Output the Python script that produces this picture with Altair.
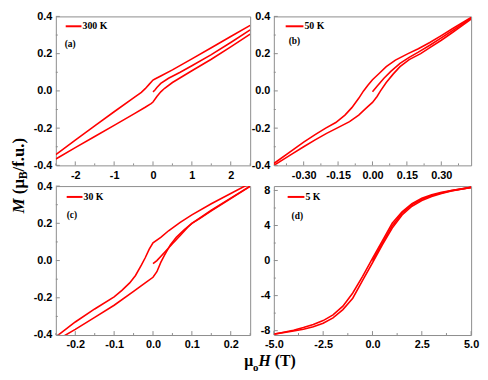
import altair as alt
import pandas as pd

RED = "#ff0000"
FRAME = "#8c8c8c"
SERIF = "Liberation Serif"
SANS = "Liberation Sans"

TEMPS = ["300 K", "50 K", "30 K", "5 K"]
TAGS = ["(a)", "(b)", "(c)", "(d)"]

# ---- panel (a) 300 K ----
A_UP_H = [2.5, 2.0, 1.5, 1.0, 0.5, 0.2, 0.05, 0.0, -0.1, -0.2, -0.3, -0.5, -1.0, -1.5, -2.0, -2.5]
A_UP_M = [0.352, 0.292, 0.232, 0.172, 0.113, 0.080, 0.064, 0.058, 0.035, 0.012, -0.008, -0.038, -0.112, -0.188, -0.264, -0.342]
A_LO_H = [-2.5, -2.0, -1.5, -1.0, -0.5, -0.2, -0.05, 0.0, 0.1, 0.2, 0.3, 0.5, 1.0, 1.5, 2.0, 2.5]
A_LO_M = [-0.366, -0.305, -0.245, -0.185, -0.125, -0.088, -0.068, -0.060, -0.030, -0.005, 0.014, 0.045, 0.108, 0.170, 0.236, 0.305]
A_VI_H = [0.0, 0.05, 0.1, 0.2, 0.4, 0.7, 1.0, 1.5, 2.0, 2.5]
A_VI_M = [-0.005, 0.005, 0.018, 0.040, 0.068, 0.100, 0.135, 0.195, 0.260, 0.328]

# ---- panel (b) 50 K ----
B_UP_H = [0.43, 0.35, 0.30, 0.25, 0.20, 0.155, 0.10, 0.06, 0.03, 0.0, -0.02, -0.039, -0.06, -0.09, -0.12, -0.16, -0.204, -0.25, -0.30, -0.35, -0.43]
B_UP_M = [0.395, 0.335, 0.297, 0.26, 0.226, 0.20, 0.165, 0.13, 0.095, 0.06, 0.03, 0.0, -0.04, -0.09, -0.13, -0.17, -0.20, -0.235, -0.275, -0.32, -0.39]
B_LO_H = [-0.43, -0.35, -0.30, -0.25, -0.20, -0.155, -0.10, -0.06, -0.03, 0.0, 0.02, 0.035, 0.06, 0.09, 0.12, 0.16, 0.21, 0.25, 0.30, 0.35, 0.43]
B_LO_M = [-0.40, -0.338, -0.30, -0.263, -0.228, -0.20, -0.165, -0.13, -0.095, -0.062, -0.03, 0.0, 0.045, 0.09, 0.13, 0.168, 0.20, 0.232, 0.272, 0.315, 0.385]
B_VI_H = [0.0, 0.02, 0.05, 0.08, 0.12, 0.16, 0.2, 0.25, 0.3, 0.35, 0.43]
B_VI_M = [-0.005, 0.025, 0.068, 0.105, 0.148, 0.18, 0.208, 0.245, 0.285, 0.325, 0.39]

# ---- panel (c) 30 K ----
C_UP_H = [0.25, 0.2, 0.15, 0.1, 0.07, 0.04, 0.02, 0.0, -0.01, -0.02, -0.03, -0.045, -0.06, -0.08, -0.1, -0.15, -0.2, -0.25]
C_UP_M = [0.415, 0.36, 0.305, 0.245, 0.205, 0.16, 0.125, 0.095, 0.06, 0.015, -0.025, -0.08, -0.12, -0.16, -0.195, -0.26, -0.33, -0.41]
C_LO_H = [-0.25, -0.2, -0.15, -0.1, -0.05, -0.02, 0.0, 0.01, 0.02, 0.03, 0.045, 0.06, 0.08, 0.1, 0.15, 0.2, 0.25]
C_LO_M = [-0.43, -0.37, -0.305, -0.24, -0.165, -0.12, -0.09, -0.06, -0.01, 0.03, 0.085, 0.125, 0.165, 0.2, 0.27, 0.335, 0.4]
C_VI_H = [0.0, 0.01, 0.03, 0.05, 0.07, 0.09, 0.1, 0.12, 0.15, 0.2, 0.25]
C_VI_M = [-0.017, 0.0, 0.045, 0.09, 0.135, 0.18, 0.2, 0.225, 0.267, 0.333, 0.398]

# ---- panel (d) 5 K ----
D_UP_H = [5, 4, 3.5, 3, 2.5, 2, 1.5, 1, 0.5, 0, -0.5, -1, -1.5, -2, -2.5, -3, -3.5, -4, -5]
D_UP_M = [8.35, 8.0, 7.8, 7.5, 7.1, 6.5, 5.55, 4.25, 2.25, 0.25, -1.8, -3.7, -5.2, -6.2, -6.85, -7.3, -7.65, -7.95, -8.4]
D_LO_H = [-5, -4, -3.5, -3, -2.5, -2, -1.5, -1, -0.5, 0, 0.5, 1, 1.5, 2, 2.5, 3, 3.5, 4, 5]
D_LO_M = [-8.4, -8.05, -7.85, -7.55, -7.15, -6.55, -5.6, -4.3, -2.25, -0.25, 1.8, 3.7, 5.2, 6.2, 6.85, 7.3, 7.65, 7.95, 8.35]
D_VI_H = [0, 0.5, 1, 1.5, 2, 2.5, 3, 3.5, 4, 5]
D_VI_M = [0.0, 2.0, 3.95, 5.4, 6.38, 7.0, 7.42, 7.72, 7.98, 8.35]

# axis ticks
A_X_MAJ = [-2, -1, 0, 1, 2]
A_X_MIN = [-2.5, -1.5, -0.5, 0.5, 1.5, 2.5]
B_X_MAJ = [-0.30, -0.15, 0.0, 0.15, 0.30]
B_X_MIN = [-0.375, -0.225, -0.075, 0.075, 0.225, 0.375]
C_X_MAJ = [-0.2, -0.1, 0.0, 0.1, 0.2]
C_X_MIN = [-0.25, -0.15, -0.05, 0.05, 0.15, 0.25]
D_X_MAJ = [-5.0, -2.5, 0.0, 2.5, 5.0]
D_X_MIN = [-3.75, -1.25, 1.25, 3.75]
Y_MAJ = [-0.4, -0.2, 0.0, 0.2, 0.4]
Y_MIN = [-0.3, -0.1, 0.1, 0.3]
D_Y_MAJ = [-8, -4, 0, 4, 8]
D_Y_MIN = [-6, -2, 2, 6]

W_LEFT, W_RIGHT, H = 197, 200, 151
MINUS = "replace(datum.label, '\u2212', '-')"


def one():
    return alt.Chart(pd.DataFrame({"k": [0]}))


def txt(text, x, y, size, angle=0, italic=False, align="left", baseline="alphabetic", font=SERIF):
    kw = dict(text=text, font=font, fontWeight="bold", fontSize=size, align=align,
              baseline=baseline, color="black")
    if italic:
        kw["fontStyle"] = "italic"
    if angle:
        kw["angle"] = angle
    return one().mark_text(**kw).encode(x=alt.value(x), y=alt.value(y))


def panel(up, lo, vi, xdom, ydom, xmaj, xmin, ymaj, ymin, xfmt, yfmt, w, temp, tag, leg, extra=()):
    rows = []
    for name, (hs, ms) in (("virgin", vi), ("down", up), ("up", lo)):
        for i, (hh, mm) in enumerate(zip(hs, ms)):
            rows.append({"H": hh, "M": mm, "branch": name, "i": i})
    df = pd.DataFrame(rows)
    xs = alt.Scale(domain=xdom, nice=False, zero=False)
    ys = alt.Scale(domain=ydom, nice=False, zero=False)
    xaxis = alt.Axis(values=xmaj, format=xfmt, title=None, ticks=False, domain=False, grid=False,
                     labelPadding=4, labelExpr=MINUS, labelFlush=False, labelOverlap=False)
    yaxis = alt.Axis(values=ymaj, format=yfmt, title=None, ticks=False, domain=False, grid=False,
                     labelPadding=4, labelExpr=MINUS, labelFlush=False, labelOverlap=False)
    line = alt.Chart(df).mark_line(color=RED, strokeWidth=1.6, clip=True).encode(
        x=alt.X("H:Q", scale=xs, axis=xaxis),
        y=alt.Y("M:Q", scale=ys, axis=yaxis),
        detail="branch:N",
        order="i:Q",
    )
    layers = [line]
    for vals, ln in ((xmaj, 4), (xmin, 2)):
        layers.append(alt.Chart(pd.DataFrame({"t": vals})).mark_rule(color=FRAME, strokeWidth=1).encode(
            x=alt.X("t:Q", scale=xs, axis=xaxis), y=alt.value(H), y2=alt.value(H - ln)))
    for vals, ln in ((ymaj, 4), (ymin, 2)):
        layers.append(alt.Chart(pd.DataFrame({"t": vals})).mark_rule(color=FRAME, strokeWidth=1).encode(
            y=alt.Y("t:Q", scale=ys, axis=yaxis), x=alt.value(0), x2=alt.value(ln)))
    lx0, lx1, ly, tx, ty = leg
    layers.append(one().mark_rule(color=RED, strokeWidth=2).encode(
        x=alt.value(lx0), x2=alt.value(lx1), y=alt.value(ly)))
    layers.append(txt(temp, lx1 + 1, ly, 10, baseline="middle"))
    layers.append(txt(tag, tx, ty, 9.5, baseline="middle"))
    layers.extend(extra)
    return alt.layer(*layers).properties(width=w, height=H)


# invisible anchors fixing the chart's outer bounds (left / top)
anchors = [
    one().mark_rule(opacity=0, strokeWidth=1).encode(
        x=alt.value(-52), y=alt.value(20), y2=alt.value(30)),
    one().mark_rule(opacity=0, strokeWidth=1).encode(
        x=alt.value(20), x2=alt.value(30), y=alt.value(-10)),
]
ytitle = [
    txt("M", -32.5, 199.5, 17, angle=270, italic=True),
    txt("(\u03bc", -32.5, 180.2, 17, angle=270),
    txt("B", -29, 165.1, 12, angle=270),
    txt("/f.u.)", -32.5, 157.1, 17, angle=270),
]
xtitle = [
    txt("\u03bc", -30, 182, 16),
    txt("o", -21.1, 187, 11),
    txt("H", -15.6, 182, 16, italic=True),
    txt("(T)", 0.85, 182, 16),
]

pa = panel((A_UP_H, A_UP_M), (A_LO_H, A_LO_M), (A_VI_H, A_VI_M), [-2.5, 2.5], [-0.4, 0.4],
           A_X_MAJ, A_X_MIN, Y_MAJ, Y_MIN, "d", ".1f", W_LEFT, TEMPS[0], TAGS[0],
           (10, 26, 10, 9, 28), extra=ytitle + anchors)
pb = panel((B_UP_H, B_UP_M), (B_LO_H, B_LO_M), (B_VI_H, B_VI_M), [-0.43, 0.43], [-0.4, 0.4],
           B_X_MAJ, B_X_MIN, Y_MAJ, Y_MIN, ".2f", ".1f", W_RIGHT, TEMPS[1], TAGS[1],
           (12, 30, 10, 15, 25))
pc = panel((C_UP_H, C_UP_M), (C_LO_H, C_LO_M), (C_VI_H, C_VI_M), [-0.25, 0.25], [-0.4, 0.4],
           C_X_MAJ, C_X_MIN, Y_MAJ, Y_MIN, ".1f", ".1f", W_LEFT, TEMPS[2], TAGS[2],
           (11, 27, 11, 11, 29))
pd_ = panel((D_UP_H, D_UP_M), (D_LO_H, D_LO_M), (D_VI_H, D_VI_M), [-5, 5], [-8.5, 8.5],
            D_X_MAJ, D_X_MIN, D_Y_MAJ, D_Y_MIN, ".1f", "d", W_RIGHT, TEMPS[3], TAGS[3],
            (14, 31, 11, 18, 30), extra=xtitle)

chart = alt.concat(pa, pb, pc, pd_, columns=2, spacing=21,
                   bounds="flush", align="all").properties(
    padding={"left": -4.5, "top": -5, "right": 0, "bottom": 0}
).configure_view(stroke=FRAME, strokeWidth=1).configure_axis(
    labelFont=SANS, labelFontWeight="bold", labelFontSize=11, labelColor="black"
)

chart.save("out.html", embed_options={"renderer": "svg", "actions": False})
